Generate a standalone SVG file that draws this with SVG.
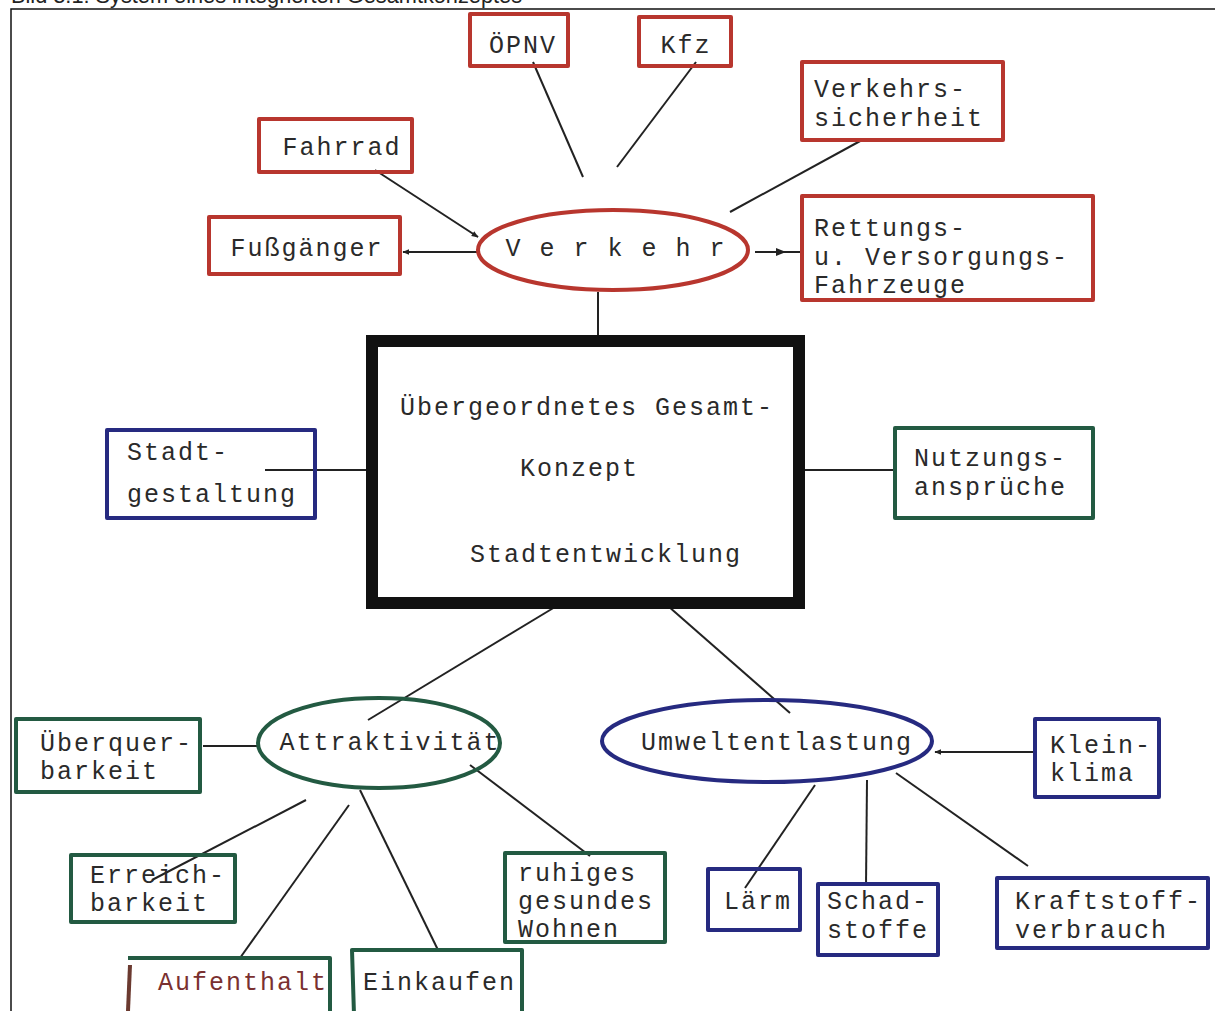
<svg xmlns="http://www.w3.org/2000/svg" width="1215" height="1011" viewBox="0 0 1215 1011">
<defs>
<style>
.t{font-family:"Liberation Mono","Courier New",monospace;font-size:25px;letter-spacing:2px;fill:#2a2a2a;}
.m{text-anchor:middle;}
.red{fill:none;stroke:#b8362e;stroke-width:4;stroke-linejoin:round;}
.blue{fill:none;stroke:#262a80;stroke-width:4;stroke-linejoin:round;}
.green{fill:none;stroke:#235a42;stroke-width:4;stroke-linejoin:round;}
.c{stroke:#222;stroke-width:2;fill:none;}
</style>
<marker id="ah" viewBox="0 0 10 10" refX="9" refY="5" markerWidth="7" markerHeight="7" markerUnits="userSpaceOnUse" orient="auto">
<path d="M0,1 L10,5 L0,9 z" fill="#222"/>
</marker>
</defs>
<rect width="1215" height="1011" fill="#fff"/>
<text x="11" y="3" font-family="Liberation Sans, Arial, sans-serif" font-size="22" fill="#222" textLength="511" lengthAdjust="spacingAndGlyphs">Bild 3.1: System eines integrierten Gesamtkonzeptes</text>
<rect x="11" y="9" width="1220" height="1010" fill="none" stroke="#111" stroke-width="1.5"/>

<g id="connectors">
<line class="c" x1="533" y1="62" x2="583" y2="177"/>
<line class="c" x1="696" y1="62" x2="617" y2="167"/>
<line class="c" x1="862" y1="140" x2="730" y2="212"/>
<line class="c" x1="375" y1="170" x2="478" y2="237" marker-end="url(#ah)"/>
<line class="c" x1="480" y1="252" x2="403" y2="252" marker-end="url(#ah)"/>
<line class="c" x1="755" y1="252" x2="800" y2="252"/>
<path d="M776,248 L786,252 L776,256 z" fill="#222"/>
<line class="c" x1="598" y1="292" x2="598" y2="338"/>
<line class="c" x1="265" y1="470" x2="368" y2="470"/>
<line class="c" x1="802" y1="470" x2="895" y2="470"/>
<line class="c" x1="555" y1="607" x2="368" y2="720"/>
<line class="c" x1="668" y1="606" x2="790" y2="713"/>
<line class="c" x1="203" y1="746" x2="258" y2="746"/>
<line class="c" x1="306" y1="800" x2="152" y2="880"/>
<line class="c" x1="349" y1="805" x2="240" y2="958"/>
<line class="c" x1="360" y1="790" x2="438" y2="950"/>
<line class="c" x1="470" y1="765" x2="590" y2="856"/>
<line class="c" x1="1037" y1="752" x2="935" y2="752" marker-end="url(#ah)"/>
<line class="c" x1="815" y1="785" x2="745" y2="888"/>
<line class="c" x1="867" y1="780" x2="866" y2="886"/>
<line class="c" x1="896" y1="773" x2="1028" y2="866"/>
</g>

<g id="opnv"><rect class="red" x="470" y="14" width="98" height="52"/><text class="t m" x="523" y="53">ÖPNV</text></g>
<g id="kfz"><rect class="red" x="639" y="17" width="92" height="49"/><text class="t m" x="686" y="53">Kfz</text></g>
<g id="verkehrssicherheit"><rect class="red" x="802" y="62" width="201" height="78"/><text class="t" x="814" y="97">Verkehrs-</text><text class="t" x="814" y="126">sicherheit</text></g>
<g id="fahrrad"><rect class="red" x="259" y="119" width="153" height="53"/><text class="t m" x="342" y="155">Fahrrad</text></g>
<g id="fussgaenger"><rect class="red" x="209" y="217" width="191" height="57"/><text class="t m" x="307" y="256">Fußgänger</text></g>
<g id="verkehr"><ellipse class="red" cx="613" cy="250" rx="135" ry="40"/><text class="t m" x="616" y="256">V e r k e h r</text></g>
<g id="rettung"><rect class="red" x="802" y="196" width="291" height="104"/><text class="t" x="814" y="236">Rettungs-</text><text class="t" x="814" y="265">u. Versorgungs-</text><text class="t" x="814" y="293">Fahrzeuge</text></g>

<g id="gesamtkonzept"><rect x="372" y="341" width="427" height="262" fill="none" stroke="#111" stroke-width="12"/>
<text class="t" x="400" y="415">Übergeordnetes Gesamt-</text>
<text class="t" x="520" y="476">Konzept</text>
<text class="t" x="470" y="562">Stadtentwicklung</text></g>

<g id="stadtgestaltung"><rect class="blue" x="107" y="430" width="208" height="88"/><text class="t" x="127" y="460">Stadt-</text><text class="t" x="127" y="502">gestaltung</text></g>
<g id="nutzung"><rect class="green" x="895" y="428" width="198" height="90"/><text class="t" x="914" y="466">Nutzungs-</text><text class="t" x="914" y="495">ansprüche</text></g>

<g id="attraktivitaet"><ellipse class="green" cx="379" cy="743" rx="121" ry="45"/><text class="t m" x="390" y="750">Attraktivität</text></g>
<g id="ueberquerbarkeit"><rect class="green" x="16" y="719" width="184" height="73"/><text class="t" x="40" y="751">Überquer-</text><text class="t" x="40" y="779">barkeit</text></g>
<g id="erreichbarkeit"><rect class="green" x="71" y="855" width="164" height="67"/><text class="t" x="90" y="883">Erreich-</text><text class="t" x="90" y="911">barkeit</text></g>
<g id="aufenthalt"><path class="green" d="M128,958 L330,958 L330,1015"/><line x1="130" y1="965" x2="128" y2="1011" stroke="#6b3a30" stroke-width="4"/><text class="t" x="158" y="990" style="fill:#7a3030">Aufenthalt</text></g>
<g id="einkaufen"><path class="green" d="M354,1015 L352,950 L522,950 L522,1015"/><text class="t" x="363" y="990">Einkaufen</text></g>
<g id="wohnen"><rect class="green" x="505" y="853" width="160" height="89"/><text class="t" x="518" y="881">ruhiges</text><text class="t" x="518" y="909">gesundes</text><text class="t" x="518" y="937">Wohnen</text></g>

<g id="umweltentlastung"><ellipse class="blue" cx="767" cy="741" rx="165" ry="41"/><text class="t m" x="777" y="750">Umweltentlastung</text></g>
<g id="kleinklima"><rect class="blue" x="1035" y="719" width="124" height="78"/><text class="t" x="1050" y="753">Klein-</text><text class="t" x="1050" y="781">klima</text></g>
<g id="laerm"><rect class="blue" x="708" y="869" width="92" height="61"/><text class="t" x="724" y="909">Lärm</text></g>
<g id="schadstoffe"><rect class="blue" x="818" y="884" width="120" height="71"/><text class="t" x="827" y="909">Schad-</text><text class="t" x="827" y="938">stoffe</text></g>
<g id="kraftstoff"><rect class="blue" x="997" y="878" width="211" height="70"/><text class="t" x="1015" y="909">Kraftstoff-</text><text class="t" x="1015" y="938">verbrauch</text></g>
</svg>
